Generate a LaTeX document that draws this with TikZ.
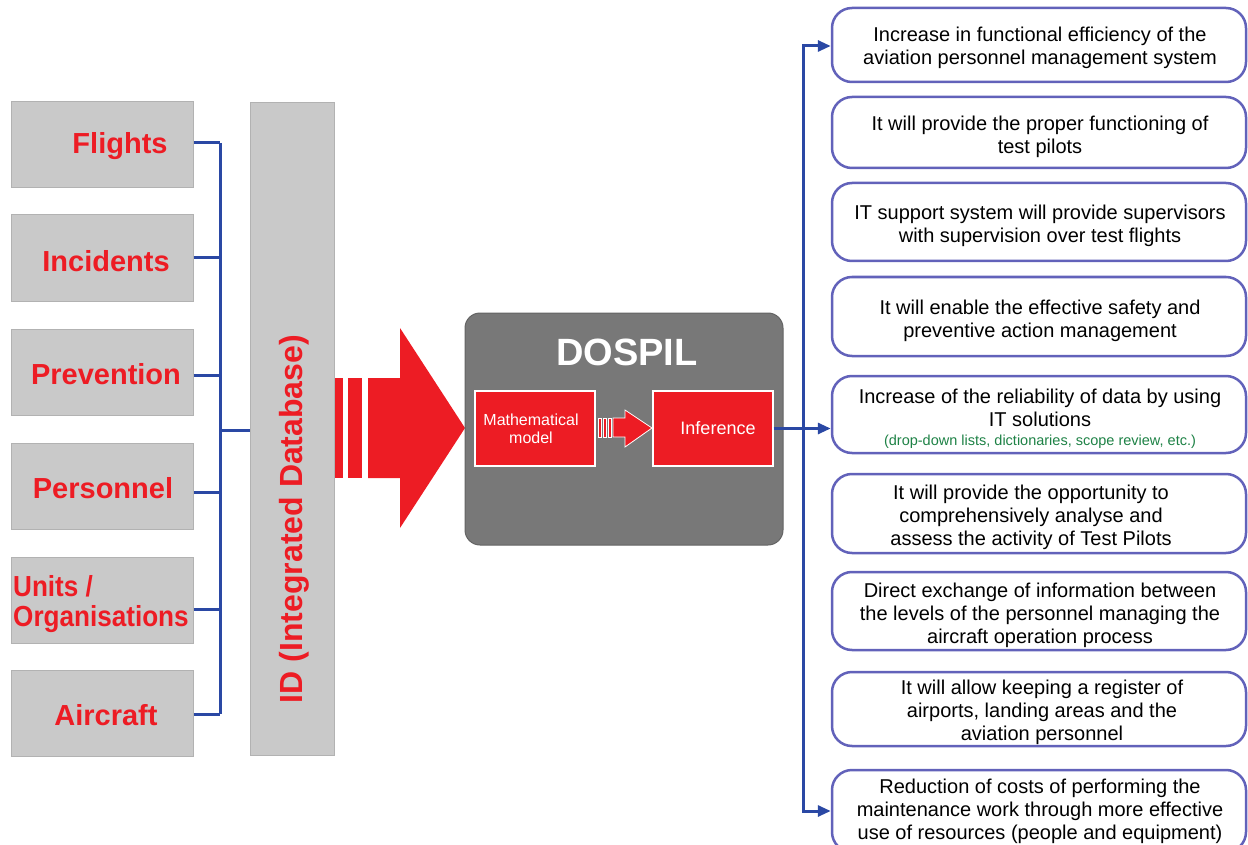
\documentclass[tikz,border=0pt]{standalone}
\usepackage{fontspec}
\setmainfont{Liberation Sans}
\usetikzlibrary{arrows.meta}
\definecolor{boxgray}{RGB}{201,201,201}
\definecolor{boxedge}{RGB}{178,178,178}
\definecolor{tred}{RGB}{237,28,36}
\definecolor{busblue}{RGB}{42,72,164}
\definecolor{rimblue}{RGB}{98,98,186}
\definecolor{dgray}{RGB}{120,120,120}
\definecolor{dgrayedge}{RGB}{100,100,100}
\definecolor{tgreen}{RGB}{30,130,70}
\tikzset{
  srcbox/.style={draw=boxedge,fill=boxgray,line width=1pt,minimum width=182pt,minimum height=86pt,inner sep=0pt},
  srclabel/.style={text=tred,font=\fontsize{29}{30}\selectfont\bfseries,inner sep=0pt},
  bus/.style={draw=busblue,line width=3pt},
  arr/.style={-{Triangle[length=13pt,width=11pt]}},
  outbox/.style={draw=rimblue,line width=2.5pt,rounded corners=20pt,fill=white,minimum width=414pt,inner sep=0pt},
  outtext/.style={inner sep=0pt,align=center,font=\fontsize{20}{23}\selectfont},
  redbox/.style={draw=white,line width=1.2pt,fill=tred,minimum width=120pt,minimum height=75pt,inner sep=0pt},
}
\begin{document}
\begin{tikzpicture}[x=1pt,y=-1pt]
\useasboundingbox (0,0) rectangle (1248,845);
\clip (0,0) rectangle (1248,845);
% left source boxes
\node[srcbox] (flights) at (102,144.5) {};
\node[srcbox] (incidents) at (102,258) {};
\node[srcbox] (prevention) at (102,372) {};
\node[srcbox] (personnel) at (102,486) {};
\node[srcbox] (units) at (102,600) {};
\node[srcbox] (aircraft) at (102,713) {};
\node[srclabel] (lflights) at (120,146) {Flights};
\node[srclabel] (lincidents) at (106,261) {Incidents};
\node[srclabel] (lprevention) at (106,374) {Prevention};
\node[srclabel] (lpersonnel) at (103,488) {Personnel};
\node[srclabel,align=left,anchor=west,font=\fontsize{29}{30}\selectfont\bfseries] (lunits) at (13,604) {\scalebox{0.9}[1]{Units /}\\\scalebox{0.9}[1]{Organisations}};
\node[srclabel] (laircraft) at (106,715) {Aircraft};
% ID box
\node[srcbox,minimum width=84pt,minimum height=652pt] (id) at (292,429) {};
\node[srclabel,rotate=90,font=\fontsize{32}{33}\selectfont\bfseries] (lid) at (294,519) {ID (Integrated Database)};
% left bus
\coordinate (yF) at (0,143);
\coordinate (yI) at (0,258);
\coordinate (yP) at (0,375);
\coordinate (yPe) at (0,492);
\coordinate (yU) at (0,609);
\coordinate (yA) at (0,714);
\coordinate (yM) at (0,430);
\coordinate (busx) at (220,0);
\draw[bus] (flights.east |- yF) -- (busx |- yF);
\draw[bus] (incidents.east |- yI) -- (busx |- yI);
\draw[bus] (prevention.east |- yP) -- (busx |- yP);
\draw[bus] (personnel.east |- yPe) -- (busx |- yPe);
\draw[bus] (units.east |- yU) -- (busx |- yU);
\draw[bus] (aircraft.east |- yA) -- (busx |- yA);
\draw[bus] (busx |- yF) -- (busx |- yA);
\draw[bus] (busx |- yM) -- (id.west |- yM);
% big red arrow
\fill[tred] (335,378) rectangle (343,478);
\fill[tred] (348,378) rectangle (362,478);
\fill[tred] (368,378) -- (400,378) -- (400,328) -- (465,428) -- (400,528) -- (400,478) -- (368,478) -- cycle;
% DOSPIL
\node[draw=dgrayedge,fill=dgray,line width=1pt,rounded corners=15pt,minimum width=318pt,minimum height=232pt,inner sep=0pt] (dospil) at (624,429) {};
\node[text=white,font=\fontsize{38}{40}\selectfont\bfseries,inner sep=0pt] (ldospil) at (627,352) {DOSPIL};
\node[redbox] (math) at (535,428.5) {};
\node[text=white,font=\fontsize{16}{18}\selectfont,align=center,inner sep=0pt] (lmath) at (531,429) {Mathematical\\model};
\node[redbox] (inf) at (713,428.5) {};
\node[text=white,font=\fontsize{18}{20}\selectfont,inner sep=0pt] (linf) at (718,428) {Inference};
% small arrow
\filldraw[fill=tred,draw=white,line width=0.8pt] (598,418) rectangle (601.5,437);
\filldraw[fill=tred,draw=white,line width=0.8pt] (603,418) rectangle (606.5,437);
\filldraw[fill=tred,draw=white,line width=0.8pt] (608,418) rectangle (611.5,437);
\filldraw[fill=tred,draw=white,line width=0.8pt] (613,418) -- (625,418) -- (625,410) -- (652,428) -- (625,447) -- (625,437) -- (613,437) -- cycle;
% right boxes
\node[outbox,minimum height=74pt] (r1) at (1039,45) {};
\node[outtext] (t1) at (1040,48) {Increase in functional efficiency of the\\aviation personnel management system};
\node[outbox,minimum height=71pt] (r2) at (1039,132.5) {};
\node[outtext] (t2) at (1040,137) {It will provide the proper functioning of\\test pilots};
\node[outbox,minimum height=78pt] (r3) at (1039,222) {};
\node[outtext] (t3) at (1040,226) {IT support system will provide supervisors\\with supervision over test flights};
\node[outbox,minimum height=79pt] (r4) at (1039,316.5) {};
\node[outtext] (t4) at (1040,321) {It will enable the effective safety and\\preventive action management};
\node[outbox,minimum height=77pt] (r5) at (1039,414.5) {};
\node[outtext] (t5) at (1040,419) {Increase of the reliability of data by using\\IT solutions\\[-4pt]{\fontsize{14.5}{16}\selectfont\color{tgreen}(drop-down lists, dictionaries, scope review, etc.)}};
\node[outbox,minimum height=79pt] (r6) at (1039,513.5) {};
\node[outtext] (t6) at (1031,517) {It will provide the opportunity to\\comprehensively analyse and\\assess the activity of Test Pilots};
\node[outbox,minimum height=78pt] (r7) at (1039,611) {};
\node[outtext] (t7) at (1040,615) {Direct exchange of information between\\the levels of the personnel managing the\\aircraft operation process};
\node[outbox,minimum height=74pt] (r8) at (1039,709) {};
\node[outtext] (t8) at (1042,712) {It will allow keeping a register of\\airports, landing areas and the\\aviation personnel};
\node[outbox,minimum height=82pt] (r9) at (1039,811) {};
\node[outtext] (t9) at (1040,811.5) {Reduction of costs of performing the\\maintenance work through more effective\\use of resources (people and equipment)};
% right bus
\coordinate (hub) at (803,428.5);
\coordinate (a1) at (0,46);
\coordinate (a9) at (0,811);
\draw[bus] (inf.east) -- (hub);
\draw[bus,arr] (hub) |- (r1.west |- a1);
\draw[bus,arr] (hub) |- (r9.west |- a9);
\draw[bus,arr] (hub) -- (r5.west |- hub);
\end{tikzpicture}
\end{document}
